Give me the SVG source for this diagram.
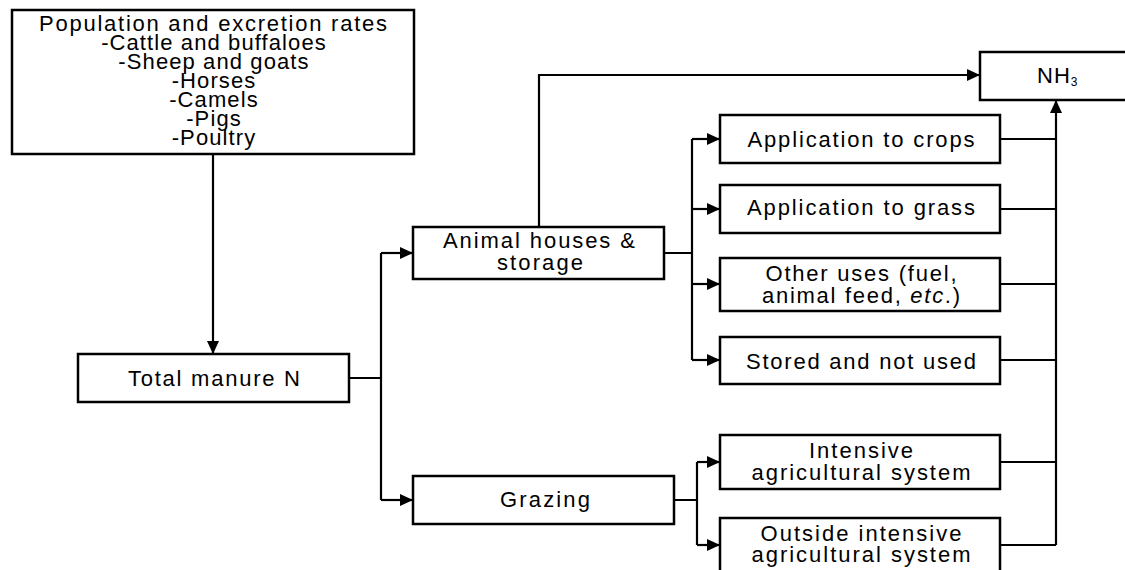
<svg xmlns="http://www.w3.org/2000/svg" width="1125" height="570" viewBox="0 0 1125 570">
<defs>
<marker id="ah" markerUnits="userSpaceOnUse" markerWidth="14" markerHeight="12" refX="13" refY="6" orient="auto">
<path d="M0,0 L13,6 L0,12 Z" fill="#000"/>
</marker>
<style>
rect.box{fill:#fff;stroke:#000;stroke-width:2.5}
.t{font-family:"Liberation Sans",Arial,sans-serif;font-size:22px;fill:#000;text-anchor:middle}
.tb{letter-spacing:1.1px}
.c path{fill:none;stroke:#000;stroke-width:2.2}
.c path.a{marker-end:url(#ah)}
</style>
</defs>
<rect width="1125" height="570" fill="#fff"/>
<g class="c" id="connectors">
<path class="a" d="M213,155 V354"/>
<path d="M349,378 H381 M381,253 V500"/>
<path class="a" d="M381,253 H413"/>
<path class="a" d="M381,500 H413"/>
<path class="a" d="M539,227 V75 H980"/>
<path d="M664,253 H692 M692,139 V360"/>
<path class="a" d="M692,139 H720"/>
<path class="a" d="M692,209 H720"/>
<path class="a" d="M692,284 H720"/>
<path class="a" d="M692,360 H720"/>
<path d="M674,500 H697 M697,462 V545"/>
<path class="a" d="M697,462 H720"/>
<path class="a" d="M697,545 H720"/>
<path d="M1000,139 H1056 M1000,209 H1056 M1000,284 H1056 M1000,360 H1056 M1000,462 H1056 M1000,545 H1056"/>
<path class="a" d="M1056,545 V100"/>
</g>
<g id="population">
<rect class="box" x="12" y="10" width="402" height="144"/>
<text class="t" x="213" y="31" textLength="348">Population and excretion rates</text>
<text class="t tb" x="214" y="50">-Cattle and buffaloes</text>
<text class="t tb" x="214" y="69">-Sheep and goats</text>
<text class="t tb" x="214" y="88">-Horses</text>
<text class="t tb" x="214" y="107">-Camels</text>
<text class="t tb" x="214" y="126">-Pigs</text>
<text class="t tb" x="214" y="145">-Poultry</text>
</g>
<g id="total">
<rect class="box" x="78" y="354" width="271" height="48"/>
<text class="t" x="214" y="386" textLength="172">Total manure N</text>
</g>
<g id="animal">
<rect class="box" x="413" y="227" width="251" height="52"/>
<text class="t" x="539" y="248" textLength="192">Animal houses &amp;</text>
<text class="t" x="540" y="270" textLength="86">storage</text>
</g>
<g id="grazing">
<rect class="box" x="413" y="476" width="261" height="48"/>
<text class="t" x="545" y="507" textLength="90">Grazing</text>
</g>
<g id="nh3">
<rect class="box" x="980" y="52" width="150" height="48"/>
<text class="t" x="1037" y="83" style="text-anchor:start;letter-spacing:1px">NH<tspan font-size="12" dy="3">3</tspan></text>
</g>
<g id="crops">
<rect class="box" x="720" y="115" width="280" height="48"/>
<text class="t" x="861" y="147" textLength="227">Application to crops</text>
</g>
<g id="grass">
<rect class="box" x="720" y="185" width="280" height="48"/>
<text class="t" x="861" y="215" textLength="228">Application to grass</text>
</g>
<g id="other">
<rect class="box" x="720" y="258" width="280" height="53"/>
<text class="t" x="861" y="281" textLength="191">Other uses (fuel,</text>
<text class="t" x="861" y="303" textLength="198">animal feed, <tspan font-style="italic">etc</tspan>.)</text>
</g>
<g id="stored">
<rect class="box" x="720" y="337" width="280" height="47"/>
<text class="t" x="861" y="369" textLength="230">Stored and not used</text>
</g>
<g id="intensive">
<rect class="box" x="720" y="435" width="280" height="54"/>
<text class="t" x="861" y="458" textLength="104">Intensive</text>
<text class="t" x="861" y="480" textLength="219">agricultural system</text>
</g>
<g id="outside">
<rect class="box" x="720" y="518" width="280" height="60"/>
<text class="t" x="861" y="541" textLength="201">Outside intensive</text>
<text class="t" x="861" y="562" textLength="219">agricultural system</text>
</g>
</svg>
